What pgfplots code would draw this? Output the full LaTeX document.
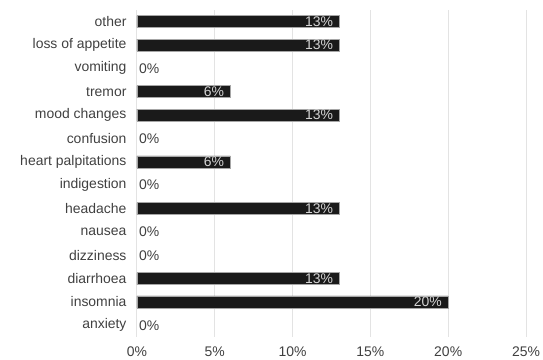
\documentclass[border=0pt]{standalone}
\usepackage{pgfplots}
\pgfplotsset{compat=1.18}
\usepackage{fontspec}
\setmainfont{Liberation Sans}
\definecolor{barfill}{HTML}{1A1A1A}
\definecolor{txt}{HTML}{404040}
\definecolor{gridc}{HTML}{E3E3E3}
\definecolor{intxt}{HTML}{D4D4D4}
\begin{document}
\begin{tikzpicture}[font=\fontsize{14}{16}\selectfont]
\useasboundingbox (-137bp,-23bp) rectangle (406bp,337bp);
\begin{axis}[
 at={(0,0)}, anchor=south west,
 scale only axis, width=389bp, height=327bp,
 xmin=0, xmax=25, ymin=-0.5, ymax=13.5,
 xbar, bar width=12bp, bar shift=0pt,
 axis line style={draw=none},
 major tick length=0pt,
 xtick={0,5,10,15,20,25},
 xticklabels={0\%,5\%,10\%,15\%,20\%,25\%},
 ytick={0,...,13},
 yticklabels={anxiety,insomnia,diarrhoea,dizziness,nausea,headache,indigestion,heart palpitations,confusion,mood changes,tremor,vomiting,loss of appetite,other},
 xmajorgrids, major grid style={gridc, line width=1bp},
 ticklabel style={text=txt},
 xticklabel style={yshift=-6bp},
 yticklabel style={xshift=-7bp},
 /pgf/number format/assume math mode=true,
]
\addplot[fill=barfill, draw=gray!70, line width=0.6bp,
  nodes near coords={\pgfmathprintnumber{\pgfplotspointmeta}\%},
  every node near coord/.append style={anchor=east, text=intxt, inner sep=2bp, xshift=-4bp}]
  table {
x y
20 1
13 2
13 5
6 7
13 9
6 10
13 12
13 13
};
\addplot[draw=none, fill=none,
  nodes near coords={\pgfmathprintnumber{\pgfplotspointmeta}\%},
  every node near coord/.append style={anchor=west, text=txt, inner sep=2bp}]
  table {
x y
0 0
0 3
0 4
0 6
0 8
0 11
};
\end{axis}
\end{tikzpicture}
\end{document}
